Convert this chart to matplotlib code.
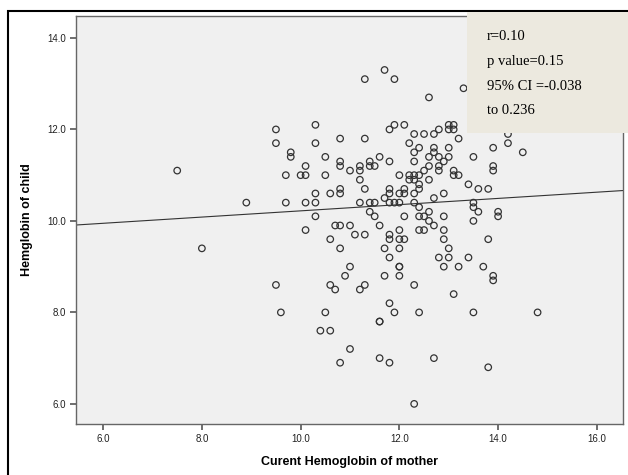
import numpy as np
import matplotlib
matplotlib.use("Agg")
import matplotlib.pyplot as plt
from matplotlib.patches import Rectangle

# Mother's current hemoglobin (x) and child's hemoglobin (y)
mother_hb = [
    7.5, 8.0, 8.9, 9.5, 9.5, 9.5, 9.6, 9.7, 9.7, 9.8, 9.8, 10.0, 10.1, 10.1, 10.1, 10.1,
    10.3, 10.3, 10.3, 10.3, 10.3, 10.4, 10.5, 10.5, 10.5, 10.6, 10.6, 10.6, 10.6, 10.7, 10.7,
    10.8, 10.8, 10.8, 10.8, 10.8, 10.8, 10.8, 10.8, 10.9, 11.0, 11.0, 11.0, 11.0, 11.1,
    11.2, 11.2, 11.2, 11.2, 11.2, 11.3, 11.3, 11.3, 11.3, 11.3, 11.4, 11.4, 11.4, 11.4,
    11.5, 11.5, 11.5, 11.6, 11.6, 11.6, 11.6, 11.6, 11.7, 11.7, 11.7, 11.7, 11.8, 11.8,
    11.8, 11.8, 11.8, 11.8, 11.8, 11.8, 11.8, 11.8, 11.9, 11.9, 11.9, 11.9, 12.0, 12.0,
    12.0, 12.0, 12.0, 12.0, 12.0, 12.0, 12.0, 12.1, 12.1, 12.1, 12.1, 12.1, 12.2, 12.2,
    12.2, 12.3, 12.3, 12.3, 12.3, 12.3, 12.3, 12.3, 12.3, 12.3, 12.4, 12.4, 12.4, 12.4,
    12.4, 12.4, 12.4, 12.4, 12.5, 12.5, 12.5, 12.5, 12.6, 12.6, 12.6, 12.6, 12.6, 12.6,
    12.7, 12.7, 12.7, 12.7, 12.7, 12.7, 12.8, 12.8, 12.8, 12.8, 12.8, 12.9, 12.9, 12.9,
    12.9, 12.9, 12.9, 13.0, 13.0, 13.0, 13.0, 13.0, 13.0, 13.1, 13.1, 13.1, 13.1, 13.1,
    13.2, 13.2, 13.2, 13.3, 13.4, 13.4, 13.5, 13.5, 13.5, 13.5, 13.5, 13.6, 13.6, 13.7,
    13.8, 13.8, 13.8, 13.9, 13.9, 13.9, 13.9, 13.9, 14.0, 14.0, 14.2, 14.2, 14.5, 14.8,
]
child_hb = [
    11.1, 9.4, 10.4, 12.0, 11.7, 8.6, 8.0, 11.0, 10.4, 11.5, 11.4, 11.0, 11.0, 11.2, 10.4, 9.8,
    12.1, 11.7, 10.6, 10.4, 10.1, 7.6, 11.4, 11.0, 8.0, 10.6, 9.6, 8.6, 7.6, 8.5, 9.9,
    11.8, 11.3, 11.2, 10.7, 10.6, 9.9, 9.4, 6.9, 8.8, 11.1, 9.9, 9.0, 7.2, 9.7,
    11.2, 11.1, 10.9, 10.4, 8.5, 13.1, 11.8, 10.7, 9.7, 8.6, 11.3, 11.2, 10.4, 10.2,
    11.2, 10.4, 10.1, 11.4, 9.9, 7.8, 7.8, 7.0, 13.3, 10.5, 9.4, 8.8, 12.0, 11.3,
    10.7, 10.6, 10.4, 9.7, 9.6, 9.2, 8.2, 6.9, 13.1, 12.1, 10.4, 8.0, 11.0, 10.6,
    10.4, 9.8, 9.6, 9.4, 9.0, 9.0, 8.8, 12.1, 10.7, 10.6, 10.1, 9.6, 11.7, 11.0,
    10.9, 11.9, 11.5, 11.3, 11.0, 10.9, 10.6, 10.4, 8.6, 6.0, 11.6, 11.0, 10.8, 10.7,
    10.3, 10.1, 9.8, 8.0, 11.9, 11.1, 10.1, 9.8, 12.7, 11.4, 11.2, 10.9, 10.2, 10.0,
    11.9, 11.6, 11.5, 10.5, 9.9, 7.0, 12.0, 11.4, 11.2, 11.1, 9.2, 11.3, 10.6, 10.1,
    9.8, 9.6, 9.0, 12.1, 12.0, 11.6, 11.4, 9.4, 9.2, 12.1, 12.0, 11.1, 11.0, 8.4,
    11.8, 11.0, 9.0, 12.9, 10.8, 9.2, 11.4, 10.4, 10.3, 10.0, 8.0, 10.7, 10.2, 9.0,
    10.7, 9.6, 6.8, 11.6, 11.2, 11.1, 8.8, 8.7, 10.2, 10.1, 11.9, 11.7, 11.5, 8.0,
]

# fitted line of the reference
fit_intercept = 9.54
fit_slope = 0.068

x_ticks = [6.0, 8.0, 10.0, 12.0, 14.0, 16.0]
y_ticks = [6.0, 8.0, 10.0, 12.0, 14.0]
stats_lines = ["r=0.10", "p value=0.15", "95% CI =-0.038", "to 0.236"]

x = np.array(mother_hb)
y = np.array(child_hb)

fig = plt.figure(figsize=(6.28, 4.75), dpi=100)
fig.patch.set_facecolor("white")

# outer black frame
fig.add_artist(Rectangle((8 / 628, -0.05), 1.0, 1 - 11 / 475 + 0.05,
                         transform=fig.transFigure, fill=False,
                         edgecolor="black", linewidth=1.5))

ax = fig.add_axes([76 / 628, 1 - 424 / 475, (623 - 76) / 628, (424 - 16) / 475])
ax.set_facecolor("#f0f0f0")
ax.set_xlim(5.45, 16.53)
ax.set_ylim(5.56, 14.48)

ax.scatter(x, y, s=22, facecolors="none", edgecolors="#333333", linewidths=0.9, zorder=3)

xl = np.array(ax.get_xlim())
ax.plot(xl, fit_intercept + fit_slope * xl, color="#333333", linewidth=0.8, zorder=2)

ax.set_xticks(x_ticks)
ax.set_yticks(y_ticks)
ax.set_xticklabels([f"{v:.1f}" for v in x_ticks])
ax.set_yticklabels([f"{v:.1f}" for v in y_ticks])
ax.tick_params(axis="both", labelsize=7, colors="#555555", labelcolor="#222222",
               length=4, width=1.2)
for s in ax.spines.values():
    s.set_color("#666666")
    s.set_linewidth(1.0)

ax.set_xlabel("Curent Hemoglobin of mother", fontsize=9, fontweight="bold",
              family="Liberation Sans", labelpad=8)
ax.set_ylabel("Hemglobin of child", fontsize=9, fontweight="bold",
              family="Liberation Sans", labelpad=10)
for lab in ax.get_xticklabels() + ax.get_yticklabels():
    lab.set_family("Liberation Sans")

# stats box
fig.add_artist(Rectangle((467 / 628, 1 - 133 / 475), (628 - 467) / 628, (133 - 12) / 475,
                         transform=fig.transFigure, facecolor="#ece9df",
                         edgecolor="none", zorder=5))
for i, line in enumerate(stats_lines):
    fig.text(487 / 628, 1 - (37 + 24.5 * i) / 475, line, fontsize=10.5,
             family="Liberation Serif", va="center", ha="left", zorder=6)

fig.savefig("out.png", dpi=100)
